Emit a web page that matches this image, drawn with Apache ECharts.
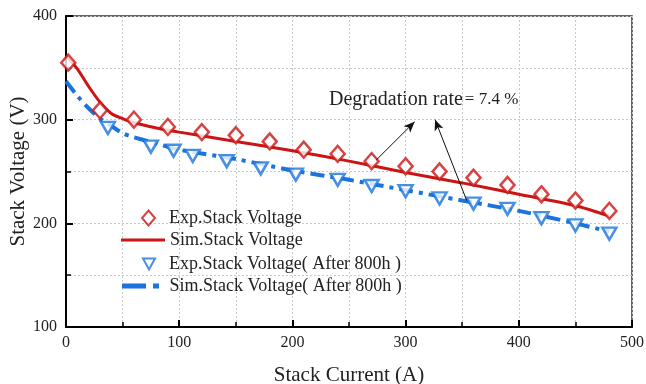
<!DOCTYPE html>
<html><head><meta charset="utf-8">
<script src="https://cdn.jsdelivr.net/npm/echarts@6/dist/echarts.min.js"></script>
<style>html,body{margin:0;padding:0;background:#fff}#c{width:646px;height:384px}</style>
</head><body><div id="c"></div>
<script>
const expCurrent = [2,30,60,90,120,150,180,210,240,270,300,330,360,390,420,450,480];
const expVoltage = [355,309,300,293,288,285,279,271,267,260,255,250,244,237,228,222,212];
const simCurrent = [0,10,20,30,40,50,60,80,100,150,200,250,300,350,400,450,480];
const simVoltage = [362,349,332,317,306,301,297,292,288,279,270,260,249,239,228,217,207];
const expCurrentAged = [37,75,95,112,142,172,203,240,270,300,330,360,390,420,450,480];
const expVoltageAged = [292,274,270,265,260,253,247,242,236,231,224,219,214,205,198,190];
const simCurrentAged = [0,10,20,30,40,50,60,80,100,150,200,250,300,350,400,450,480];
const simVoltageAged = [337,323,311,301,294,287,283,277,271,262,251,242,232,222,212,200,192];
const seriesNames = ['Exp.Stack Voltage','Sim.Stack Voltage','Exp.Stack Voltage( After 800h )','Sim.Stack Voltage( After 800h )'];
const xTicks = {min:0,max:500,interval:100};
const yTicks = {min:100,max:400,interval:100};
const annotationText = 'Degradation rate';
const annotationValue = '= 7.4 %';
const arrowA = [[274,261],[308,298]];
const arrowB = [[354,222],[326,300]];

const zip = (a,b)=>a.map((v,i)=>[v,b[i]]);
const FONT = '"Liberation Serif", "Times New Roman", serif';
const RED = '#cc1414';
const BLUE = '#1a74dc';
const chart = echarts.init(document.getElementById('c'));
const axisCommon = {
  axisLine:{show:true,onZero:false,lineStyle:{color:'#000',width:2}},
  axisTick:{show:true,inside:true,length:7,lineStyle:{color:'#000',width:2}},
  minorTick:{show:true,splitNumber:2,length:5,lineStyle:{color:'#000',width:1.5}},
  splitLine:{show:true,lineStyle:{color:'#c8c8c8',type:[2,2],width:1}},
  minorSplitLine:{show:true,lineStyle:{color:'#c8c8c8',type:[2,2],width:1}},
  axisLabel:{color:'#222',fontFamily:FONT,fontSize:16},
  nameTextStyle:{color:'#222',fontFamily:FONT,fontSize:21}
};
const legText = {fontFamily:FONT,fontSize:18,color:'#222'};
const rowY = [216,238,262,284];
function legend(i, icon, w, h, left, pad){
  return {orient:'vertical',left:left,top:rowY[i]-7,itemWidth:w,itemHeight:h,padding:0,
    textStyle:Object.assign({},legText,{padding:[0,0,0,pad]}),
    data:[{name:seriesNames[i],icon:icon}]};
}
chart.setOption({
  animation:false,
  backgroundColor:'#fff',
  grid:{left:66,right:14,top:16,bottom:57,outerBoundsMode:'none',containLabel:false,show:true,borderColor:'#333',borderWidth:1.5,backgroundColor:'transparent'},
  xAxis:Object.assign({type:'value',min:xTicks.min,max:xTicks.max,interval:xTicks.interval,name:'Stack Current (A)',nameLocation:'middle',nameGap:38},axisCommon,{axisLabel:Object.assign({},axisCommon.axisLabel,{margin:8})}),
  yAxis:Object.assign({type:'value',min:yTicks.min,max:yTicks.max,interval:yTicks.interval,name:'Stack Voltage (V)',nameLocation:'middle',nameGap:37,nameMoveOverlap:false},axisCommon,{axisLabel:Object.assign({},axisCommon.axisLabel,{margin:9})}),
  legend:[
    legend(0,'diamond',13,15,141,9),
    legend(1,'path://M0,0 L44,0 L44,3 L0,3 Z',44,3,121,0),
    legend(2,'path://M0,0 L12,0 L6,11 Z',12,11,142,9),
    legend(3,'path://M0,0 L24,0 L24,5 L0,5 Z M31,0 L37,0 L37,5 L31,5 Z',44,5,122,2)
  ],
  series:[
    {name:seriesNames[1],type:'line',data:zip(simCurrent,simVoltage),smooth:0.3,showSymbol:false,symbol:'none',
     lineStyle:{color:RED,width:3},itemStyle:{color:RED},z:2},
    {name:seriesNames[3],type:'line',data:zip(simCurrentAged,simVoltageAged),smooth:0.3,showSymbol:false,symbol:'none',
     lineStyle:{color:BLUE,width:4,type:[14,6,4,6]},itemStyle:{color:BLUE},z:2,
     markLine:{silent:true,symbol:['none','arrow'],symbolSize:[7,11],label:{show:false},
       lineStyle:{color:'#111',width:1,type:'solid'},
       data:[[{coord:arrowA[0]},{coord:arrowA[1]}],[{coord:arrowB[0]},{coord:arrowB[1]}]]}},
    {name:seriesNames[0],type:'scatter',data:zip(expCurrent,expVoltage),symbol:'diamond',symbolSize:[14,16],
     itemStyle:{color:'#fff',borderColor:RED,borderWidth:2.5},z:3},
    {name:seriesNames[2],type:'scatter',data:zip(expCurrentAged,expVoltageAged),symbol:'triangle',symbolRotate:180,symbolSize:[14,12],
     itemStyle:{color:'#fff',borderColor:BLUE,borderWidth:2.5},z:3}
  ],
  graphic:[{type:'text',left:329,top:90,style:{text:'{a|'+annotationText+'}{b|'+annotationValue+'}',
    rich:{a:{fontFamily:FONT,fontSize:20,fill:'#222'},b:{fontFamily:FONT,fontSize:17,fill:'#222',padding:[0,0,0,2]}}}}]
});
</script></body></html>
